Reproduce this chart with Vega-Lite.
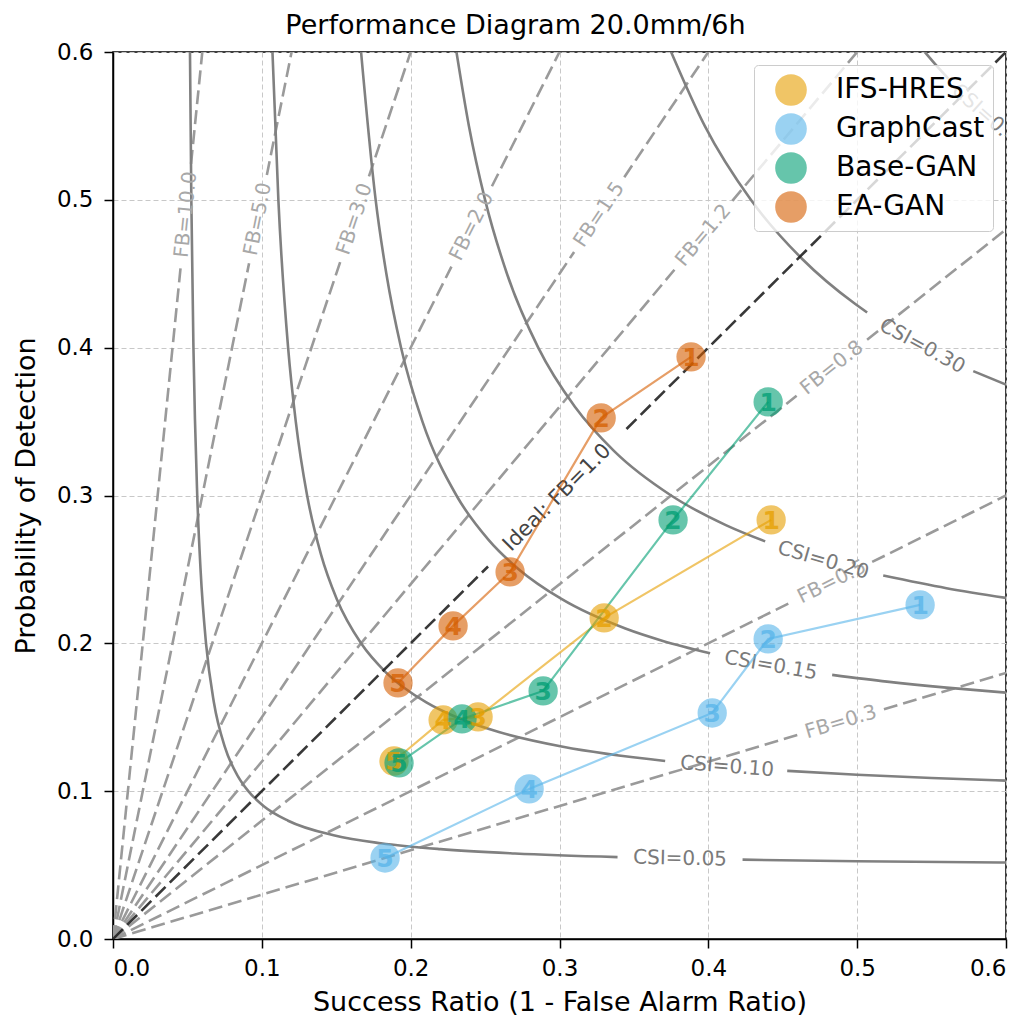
{
  "$schema": "https://vega.github.io/schema/vega-lite/v6.json",
  "width": 893,
  "height": 887,
  "autosize": {"type": "none"},
  "padding": {"left": 113, "top": 52, "right": 24, "bottom": 86},
  "title": {"text": "Performance Diagram 20.0mm/6h", "fontSize": 27, "fontWeight": "normal", "color": "black", "offset": 1, "dx": -44, "anchor": "middle"},
  "config": {
    "font": "DejaVu Sans",
    "view": {"stroke": "black", "strokeWidth": 1.5},
    "axis": {
      "labelFontSize": 23, "titleFontSize": 27, "titleFontWeight": "normal",
      "labelColor": "black", "titleColor": "black", "tickColor": "black", "domainColor": "black",
      "tickSize": 9, "tickWidth": 1.5, "domainWidth": 1.5, "labelPadding": 9,
      "gridColor": "#c8c8c8", "gridDash": [5, 3], "gridWidth": 1
    }
  },
  "datasets": {
    "fb": [
      {"id": "10a", "sr": 0, "pod": 0}, {"id": "10a", "sr": 0.04557, "pod": 0.4557},
      {"id": "10b", "sr": 0.05243, "pod": 0.5243}, {"id": "10b", "sr": 0.06, "pod": 0.6},
      {"id": "5a", "sr": 0, "pod": 0}, {"id": "5a", "sr": 0.09143, "pod": 0.45715},
      {"id": "5b", "sr": 0.10337, "pod": 0.51685}, {"id": "5b", "sr": 0.12, "pod": 0.6},
      {"id": "3a", "sr": 0, "pod": 0}, {"id": "3a", "sr": 0.15271, "pod": 0.45813},
      {"id": "3b", "sr": 0.17196, "pod": 0.51588}, {"id": "3b", "sr": 0.2, "pod": 0.6},
      {"id": "2a", "sr": 0, "pod": 0}, {"id": "2a", "sr": 0.2274, "pod": 0.4548},
      {"id": "2b", "sr": 0.2546, "pod": 0.5092}, {"id": "2b", "sr": 0.3, "pod": 0.6},
      {"id": "15a", "sr": 0, "pod": 0}, {"id": "15a", "sr": 0.30981, "pod": 0.46472},
      {"id": "15b", "sr": 0.34353, "pod": 0.5153}, {"id": "15b", "sr": 0.4, "pod": 0.6},
      {"id": "12a", "sr": 0, "pod": 0}, {"id": "12a", "sr": 0.37723, "pod": 0.45268},
      {"id": "12b", "sr": 0.41611, "pod": 0.49933}, {"id": "12b", "sr": 0.5, "pod": 0.6},
      {"id": "08a", "sr": 0, "pod": 0}, {"id": "08a", "sr": 0.45932, "pod": 0.36746},
      {"id": "08b", "sr": 0.50668, "pod": 0.40534}, {"id": "08b", "sr": 0.6, "pod": 0.48},
      {"id": "05a", "sr": 0, "pod": 0}, {"id": "05a", "sr": 0.45591, "pod": 0.22796},
      {"id": "05b", "sr": 0.51009, "pod": 0.25505}, {"id": "05b", "sr": 0.6, "pod": 0.3},
      {"id": "03a", "sr": 0, "pod": 0}, {"id": "03a", "sr": 0.46001, "pod": 0.138},
      {"id": "03b", "sr": 0.51799, "pod": 0.1554}, {"id": "03b", "sr": 0.6, "pod": 0.18}
    ],
    "ideal": [
      {"id": "a", "sr": 0, "pod": 0}, {"id": "a", "sr": 0.252, "pod": 0.252},
      {"id": "b", "sr": 0.345, "pod": 0.345}, {"id": "b", "sr": 0.6, "pod": 0.6}
    ],
    "csi": [
      {"id": "05a", "sr": 0.05172, "pod": 0.6}, {"id": "05a", "sr": 0.05263, "pod": 0.5}, {"id": "05a", "sr": 0.05405, "pod": 0.4},
      {"id": "05a", "sr": 0.0566, "pod": 0.3}, {"id": "05a", "sr": 0.05882, "pod": 0.25}, {"id": "05a", "sr": 0.0625, "pod": 0.2},
      {"id": "05a", "sr": 0.0678, "pod": 0.16}, {"id": "05a", "sr": 0.07514, "pod": 0.13}, {"id": "05a", "sr": 0.08397, "pod": 0.11},
      {"id": "05a", "sr": 0.09091, "pod": 0.1}, {"id": "05a", "sr": 0.10112, "pod": 0.09}, {"id": "05a", "sr": 0.11765, "pod": 0.08},
      {"id": "05a", "sr": 0.14894, "pod": 0.07}, {"id": "05a", "sr": 0.18, "pod": 0.06475}, {"id": "05a", "sr": 0.22, "pod": 0.06077},
      {"id": "05a", "sr": 0.27, "pod": 0.05782}, {"id": "05a", "sr": 0.339, "pod": 0.0554},
      {"id": "05b", "sr": 0.423, "pod": 0.05366}, {"id": "05b", "sr": 0.5, "pod": 0.05263}, {"id": "05b", "sr": 0.6, "pod": 0.05172},
      {"id": "10a", "sr": 0.10714, "pod": 0.6}, {"id": "10a", "sr": 0.11111, "pod": 0.5}, {"id": "10a", "sr": 0.11765, "pod": 0.4},
      {"id": "10a", "sr": 0.12281, "pod": 0.35}, {"id": "10a", "sr": 0.13043, "pod": 0.3}, {"id": "10a", "sr": 0.13978, "pod": 0.26},
      {"id": "10a", "sr": 0.15033, "pod": 0.23}, {"id": "10a", "sr": 0.16667, "pod": 0.2}, {"id": "10a", "sr": 0.18367, "pod": 0.18},
      {"id": "10a", "sr": 0.21053, "pod": 0.16}, {"id": "10a", "sr": 0.23077, "pod": 0.15}, {"id": "10a", "sr": 0.25926, "pod": 0.14},
      {"id": "10a", "sr": 0.30233, "pod": 0.13}, {"id": "10a", "sr": 0.371, "pod": 0.12042},
      {"id": "10b", "sr": 0.453, "pod": 0.11373}, {"id": "10b", "sr": 0.5, "pod": 0.11111}, {"id": "10b", "sr": 0.55, "pod": 0.10891}, {"id": "10b", "sr": 0.6, "pod": 0.10714},
      {"id": "15a", "sr": 0.16667, "pod": 0.6}, {"id": "15a", "sr": 0.17647, "pod": 0.5}, {"id": "15a", "sr": 0.18367, "pod": 0.45},
      {"id": "15a", "sr": 0.19355, "pod": 0.4}, {"id": "15a", "sr": 0.20792, "pod": 0.35}, {"id": "15a", "sr": 0.23077, "pod": 0.3},
      {"id": "15a", "sr": 0.25234, "pod": 0.27}, {"id": "15a", "sr": 0.27273, "pod": 0.25}, {"id": "15a", "sr": 0.30131, "pod": 0.23},
      {"id": "15a", "sr": 0.34426, "pod": 0.21}, {"id": "15a", "sr": 0.37, "pod": 0.20145}, {"id": "15a", "sr": 0.4012, "pod": 0.19327},
      {"id": "15b", "sr": 0.4832, "pod": 0.17866}, {"id": "15b", "sr": 0.52, "pod": 0.17411}, {"id": "15b", "sr": 0.56, "pod": 0.17004}, {"id": "15b", "sr": 0.6, "pod": 0.16667},
      {"id": "20a", "sr": 0.23077, "pod": 0.6}, {"id": "20a", "sr": 0.23913, "pod": 0.55}, {"id": "20a", "sr": 0.25, "pod": 0.5},
      {"id": "20a", "sr": 0.26471, "pod": 0.45}, {"id": "20a", "sr": 0.28571, "pod": 0.4}, {"id": "20a", "sr": 0.31034, "pod": 0.36},
      {"id": "20a", "sr": 0.33673, "pod": 0.33}, {"id": "20a", "sr": 0.375, "pod": 0.3}, {"id": "20a", "sr": 0.41176, "pod": 0.28},
      {"id": "20a", "sr": 0.4382, "pod": 0.26897},
      {"id": "20b", "sr": 0.5175, "pod": 0.24585}, {"id": "20b", "sr": 0.56, "pod": 0.23729}, {"id": "20b", "sr": 0.6, "pod": 0.23077},
      {"id": "30a", "sr": 0.375, "pod": 0.6}, {"id": "30a", "sr": 0.39759, "pod": 0.55}, {"id": "30a", "sr": 0.42857, "pod": 0.5},
      {"id": "30a", "sr": 0.46309, "pod": 0.46}, {"id": "30a", "sr": 0.49808, "pod": 0.43}, {"id": "30a", "sr": 0.5067, "pod": 0.42378},
      {"id": "30b", "sr": 0.578, "pod": 0.38414}, {"id": "30b", "sr": 0.6, "pod": 0.375},
      {"id": "40a", "sr": 0.54545, "pod": 0.6}, {"id": "40a", "sr": 0.553, "pod": 0.59114}, {"id": "40a", "sr": 0.5614, "pod": 0.58183}
    ],
    "labels": [
      {"label": "FB=10.0", "sr": 0.049, "pod": 0.49},
      {"label": "FB=5.0", "sr": 0.0974, "pod": 0.487},
      {"label": "FB=3.0", "sr": 0.16233, "pod": 0.487},
      {"label": "FB=2.0", "sr": 0.241, "pod": 0.482},
      {"label": "FB=1.5", "sr": 0.32667, "pod": 0.49},
      {"label": "FB=1.2", "sr": 0.39667, "pod": 0.476},
      {"label": "FB=0.8", "sr": 0.483, "pod": 0.3864},
      {"label": "FB=0.5", "sr": 0.483, "pod": 0.2415},
      {"label": "FB=0.3", "sr": 0.489, "pod": 0.1467},
      {"label": "Ideal: FB=1.0", "sr": 0.2985, "pod": 0.2985},
      {"label": "CSI=0.05", "sr": 0.381, "pod": 0.0544},
      {"label": "CSI=0.10", "sr": 0.4126, "pod": 0.1166},
      {"label": "CSI=0.15", "sr": 0.442, "pod": 0.185},
      {"label": "CSI=0.20", "sr": 0.4772, "pod": 0.2561},
      {"label": "CSI=0.30", "sr": 0.5437, "pod": 0.401},
      {"label": "CSI=0.40", "sr": 0.589, "pod": 0.5549}
    ],
    "models": [
      {"model": "IFS-HRES", "idx": 1, "sr": 0.4422, "pod": 0.2835},
      {"model": "IFS-HRES", "idx": 2, "sr": 0.330, "pod": 0.2172},
      {"model": "IFS-HRES", "idx": 3, "sr": 0.2453, "pod": 0.1502},
      {"model": "IFS-HRES", "idx": 4, "sr": 0.2218, "pod": 0.1482},
      {"model": "IFS-HRES", "idx": 5, "sr": 0.1888, "pod": 0.1204},
      {"model": "GraphCast", "idx": 1, "sr": 0.5423, "pod": 0.226},
      {"model": "GraphCast", "idx": 2, "sr": 0.4402, "pod": 0.203},
      {"model": "GraphCast", "idx": 3, "sr": 0.4026, "pod": 0.1529},
      {"model": "GraphCast", "idx": 4, "sr": 0.2796, "pod": 0.1015},
      {"model": "GraphCast", "idx": 5, "sr": 0.1828, "pod": 0.0548},
      {"model": "Base-GAN", "idx": 1, "sr": 0.4402, "pod": 0.3633},
      {"model": "Base-GAN", "idx": 2, "sr": 0.3763, "pod": 0.2835},
      {"model": "Base-GAN", "idx": 3, "sr": 0.289, "pod": 0.1678},
      {"model": "Base-GAN", "idx": 4, "sr": 0.2345, "pod": 0.1489},
      {"model": "Base-GAN", "idx": 5, "sr": 0.1922, "pod": 0.1191},
      {"model": "EA-GAN", "idx": 1, "sr": 0.3884, "pod": 0.3938},
      {"model": "EA-GAN", "idx": 2, "sr": 0.328, "pod": 0.3525},
      {"model": "EA-GAN", "idx": 3, "sr": 0.2668, "pod": 0.2483},
      {"model": "EA-GAN", "idx": 4, "sr": 0.2285, "pod": 0.2118},
      {"model": "EA-GAN", "idx": 5, "sr": 0.1915, "pod": 0.1732}
    ]
  },
  "encoding": {
    "x": {"field": "sr", "type": "quantitative", "scale": {"domain": [0, 0.6], "nice": false, "zero": false},
      "axis": {"values": [0, 0.1, 0.2, 0.3, 0.4, 0.5, 0.6], "format": ".1f", "title": "Success Ratio (1 - False Alarm Ratio)", "titlePadding": 9}},
    "y": {"field": "pod", "type": "quantitative", "scale": {"domain": [0, 0.6], "nice": false, "zero": false},
      "axis": {"values": [0, 0.1, 0.2, 0.3, 0.4, 0.5, 0.6], "format": ".1f", "title": "Probability of Detection", "titlePadding": 16, "labelPadding": 11}}
  },
  "layer": [
    {"data": {"name": "fb"}, "mark": {"type": "line", "color": "#9a9a9a", "strokeWidth": 2.6, "strokeDash": [14, 6], "clip": true},
      "encoding": {"detail": {"field": "id"}}},
    {"data": {"name": "csi"}, "mark": {"type": "line", "color": "#808080", "strokeWidth": 2.6, "interpolate": "monotone", "clip": true},
      "encoding": {"detail": {"field": "id"}}},
    {"data": {"name": "ideal"}, "mark": {"type": "line", "color": "#222222", "opacity": 0.9, "strokeWidth": 2.6, "strokeDash": [14, 6], "clip": true},
      "encoding": {"detail": {"field": "id"}}},
    {"data": {"name": "labels"}, "transform": [{"filter": "datum.label === 'FB=10.0'"}], "mark": {"type": "text", "angle": 275.75, "fontSize": 20, "color": "#a8a8a8"}, "encoding": {"text": {"field": "label"}}},
    {"data": {"name": "labels"}, "transform": [{"filter": "datum.label === 'FB=5.0'"}], "mark": {"type": "text", "angle": 281.4, "fontSize": 20, "color": "#a8a8a8"}, "encoding": {"text": {"field": "label"}}},
    {"data": {"name": "labels"}, "transform": [{"filter": "datum.label === 'FB=3.0'"}], "mark": {"type": "text", "angle": 288.6, "fontSize": 20, "color": "#a8a8a8"}, "encoding": {"text": {"field": "label"}}},
    {"data": {"name": "labels"}, "transform": [{"filter": "datum.label === 'FB=2.0'"}], "mark": {"type": "text", "angle": 296.7, "fontSize": 20, "color": "#a8a8a8"}, "encoding": {"text": {"field": "label"}}},
    {"data": {"name": "labels"}, "transform": [{"filter": "datum.label === 'FB=1.5'"}], "mark": {"type": "text", "angle": 303.9, "fontSize": 20, "color": "#a8a8a8"}, "encoding": {"text": {"field": "label"}}},
    {"data": {"name": "labels"}, "transform": [{"filter": "datum.label === 'FB=1.2'"}], "mark": {"type": "text", "angle": 310, "fontSize": 20, "color": "#a8a8a8"}, "encoding": {"text": {"field": "label"}}},
    {"data": {"name": "labels"}, "transform": [{"filter": "datum.label === 'FB=0.8'"}], "mark": {"type": "text", "angle": 321.5, "fontSize": 20, "color": "#a8a8a8"}, "encoding": {"text": {"field": "label"}}},
    {"data": {"name": "labels"}, "transform": [{"filter": "datum.label === 'FB=0.5'"}], "mark": {"type": "text", "angle": 333.6, "fontSize": 20, "color": "#a8a8a8"}, "encoding": {"text": {"field": "label"}}},
    {"data": {"name": "labels"}, "transform": [{"filter": "datum.label === 'FB=0.3'"}], "mark": {"type": "text", "angle": 343.4, "fontSize": 20, "color": "#a8a8a8"}, "encoding": {"text": {"field": "label"}}},
    {"data": {"name": "labels"}, "transform": [{"filter": "datum.label === 'Ideal: FB=1.0'"}], "mark": {"type": "text", "angle": 315.2, "fontSize": 21, "color": "#444444"}, "encoding": {"text": {"field": "label"}}},
    {"data": {"name": "labels"}, "transform": [{"filter": "datum.label === 'CSI=0.05'"}], "mark": {"type": "text", "angle": 1.2, "fontSize": 20, "color": "#7a7a7a"}, "encoding": {"text": {"field": "label"}}},
    {"data": {"name": "labels"}, "transform": [{"filter": "datum.label === 'CSI=0.10'"}], "mark": {"type": "text", "angle": 4.5, "fontSize": 20, "color": "#7a7a7a"}, "encoding": {"text": {"field": "label"}}},
    {"data": {"name": "labels"}, "transform": [{"filter": "datum.label === 'CSI=0.15'"}], "mark": {"type": "text", "angle": 9.9, "fontSize": 20, "color": "#7a7a7a"}, "encoding": {"text": {"field": "label"}}},
    {"data": {"name": "labels"}, "transform": [{"filter": "datum.label === 'CSI=0.20'"}], "mark": {"type": "text", "angle": 16, "fontSize": 20, "color": "#7a7a7a"}, "encoding": {"text": {"field": "label"}}},
    {"data": {"name": "labels"}, "transform": [{"filter": "datum.label === 'CSI=0.30'"}], "mark": {"type": "text", "angle": 28.4, "fontSize": 20, "color": "#7a7a7a"}, "encoding": {"text": {"field": "label"}}},
    {"data": {"name": "labels"}, "transform": [{"filter": "datum.label === 'CSI=0.40'"}], "mark": {"type": "text", "angle": 41.4, "fontSize": 20, "color": "#7a7a7a", "clip": true}, "encoding": {"text": {"field": "label"}}},
    {"data": {"name": "models"}, "mark": {"type": "line", "strokeWidth": 2.2, "opacity": 0.6},
      "encoding": {
        "stroke": {"field": "model", "type": "nominal", "scale": {"domain": ["EA-GAN", "Base-GAN", "GraphCast", "IFS-HRES"], "range": ["#D55E00", "#009E73", "#56B4E9", "#E69F00"]}, "legend": null},
        "order": {"field": "idx", "type": "quantitative"}
      }},
    {"data": {"name": "models"}, "mark": {"type": "circle", "size": 860, "opacity": 0.6},
      "encoding": {
        "color": {"field": "model", "type": "nominal", "scale": {"domain": ["IFS-HRES", "GraphCast", "Base-GAN", "EA-GAN"], "range": ["#E69F00", "#56B4E9", "#009E73", "#D55E00"]},
          "legend": {"title": null, "orient": "top-right", "offset": 13, "fillColor": "rgba(255,255,255,0.8)", "strokeColor": "#cccccc",
            "cornerRadius": 4, "padding": 8, "labelFontSize": 28, "labelColor": "black", "symbolSize": 1000,
            "symbolOpacity": 0.6, "rowPadding": 6, "labelOffset": 28, "symbolOffset": 12, "symbolType": "circle"}}
      }},
    {"data": {"name": "models"}, "mark": {"type": "text", "fontSize": 25, "fontWeight": "bold", "opacity": 0.75, "dy": 1},
      "encoding": {
        "text": {"field": "idx", "type": "quantitative"},
        "fill": {"field": "model", "type": "nominal", "scale": {"domain": ["GraphCast", "IFS-HRES", "EA-GAN", "Base-GAN"], "range": ["#56B4E9", "#E69F00", "#D55E00", "#009E73"]}, "legend": null}
      }}
  ]
}
